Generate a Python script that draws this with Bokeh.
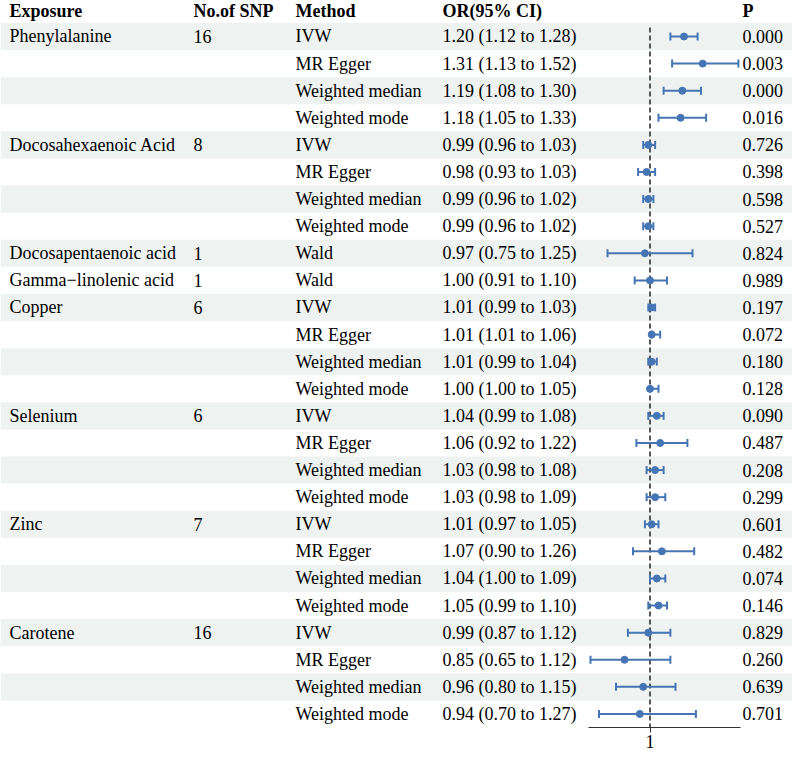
import numpy as np
from bokeh.plotting import figure
from bokeh.models import Range1d, LinearAxis, FixedTicker, ColumnDataSource
from bokeh.core.properties import value
from bokeh.embed import file_html
from bokeh.resources import INLINE

headers = ["Exposure", "No.of SNP", "Method", "OR(95% CI)", "P"]
exposure = ["Phenylalanine", "", "", "",
            "Docosahexaenoic Acid", "", "", "",
            "Docosapentaenoic acid",
            "Gamma\u2212linolenic acid",
            "Copper", "", "", "",
            "Selenium", "", "", "",
            "Zinc", "", "", "",
            "Carotene", "", "", ""]
n_snp = ["16", "", "", "", "8", "", "", "", "1", "1", "6", "", "", "",
         "6", "", "", "", "7", "", "", "", "16", "", "", ""]
method4 = ["IVW", "MR Egger", "Weighted median", "Weighted mode"]
method = method4 * 2 + ["Wald", "Wald"] + method4 * 4
or_val = [1.20, 1.31, 1.19, 1.18,
          0.99, 0.98, 0.99, 0.99,
          0.97, 1.00,
          1.01, 1.01, 1.01, 1.00,
          1.04, 1.06, 1.03, 1.03,
          1.01, 1.07, 1.04, 1.05,
          0.99, 0.85, 0.96, 0.94]
or_lo = [1.12, 1.13, 1.08, 1.05,
         0.96, 0.93, 0.96, 0.96,
         0.75, 0.91,
         0.99, 1.01, 0.99, 1.00,
         0.99, 0.92, 0.98, 0.98,
         0.97, 0.90, 1.00, 0.99,
         0.87, 0.65, 0.80, 0.70]
or_hi = [1.28, 1.52, 1.30, 1.33,
         1.03, 1.03, 1.02, 1.02,
         1.25, 1.10,
         1.03, 1.06, 1.04, 1.05,
         1.08, 1.22, 1.08, 1.09,
         1.05, 1.26, 1.09, 1.10,
         1.12, 1.12, 1.15, 1.27]
p_val = ["0.000", "0.003", "0.000", "0.016",
         "0.726", "0.398", "0.598", "0.527",
         "0.824", "0.989",
         "0.197", "0.072", "0.180", "0.128",
         "0.090", "0.487", "0.208", "0.299",
         "0.601", "0.482", "0.074", "0.146",
         "0.829", "0.260", "0.639", "0.701"]
axis_ticks = [1]

# ---- layout / style constants ----
BLUE = "#4575b4"
SHADE = "#eef2f1"
FONT = "Liberation Serif"
FSIZE = "18px"
W, H = 792, 750
col_x = [9, 193, 295, 442, 742]        # column left edges (layout units = px)
Y_TOP, Y_BOT = -0.3284, 26.5            # row-unit extent of the frame
HEADER_Y = Y_TOP + 0.03                 # header top edge (row units)
n = len(method)
rows = list(range(1, n + 1))
or_text = [f"{o:.2f} ({l:.2f} to {h:.2f})" for o, l, h in zip(or_val, or_lo, or_hi)]

p = figure(width=W, height=H, output_backend="svg", toolbar_location=None,
           x_range=Range1d(0, W), y_range=Range1d(Y_BOT, Y_TOP),
           x_axis_type=None, y_axis_type=None, min_border=0)
p.extra_x_ranges = {"or": Range1d(1 - 649.5 / 170, 1 + (W - 649.5) / 170)}
p.outline_line_color = None
p.background_fill_color = "white"
p.border_fill_color = "white"
p.xgrid.visible = False
p.ygrid.visible = False

# alternating row shading
shade_rows = rows[0::2]
p.hbar(y=shade_rows, left=0, right=W, height=1, fill_color=SHADE, line_color=None)

# header
p.text(x=col_x, y=[HEADER_Y] * len(headers), text=headers, text_font=value(FONT),
       text_font_size=FSIZE, text_font_style="bold", text_baseline="top",
       text_align="left", text_color="black")

# table columns
for cx, col in zip(col_x, [exposure, n_snp, method, or_text, p_val]):
    src = ColumnDataSource(dict(x=[cx] * n, y=rows, t=col))
    p.text(x="x", y="y", text="t", source=src, text_font=value(FONT),
           text_font_size=FSIZE, text_baseline="middle", text_align="left",
           text_color="black")

# reference line at OR = 1
p.segment(x0=[1], y0=[0.67], x1=[1], y1=[Y_BOT], x_range_name="or",
          line_color="#222222", line_width=1.5, line_dash="5 3")

# CIs
p.segment(x0=or_lo, y0=rows, x1=or_hi, y1=rows, x_range_name="or",
          line_color=BLUE, line_width=2)
p.scatter(x=or_lo + or_hi, y=rows + rows, marker="dash", angle=np.pi / 2, size=8,
          line_color=BLUE, line_width=2, x_range_name="or")
p.scatter(x=or_val, y=rows, marker="circle", size=7, fill_color=BLUE,
          line_color=BLUE, x_range_name="or")

ax = LinearAxis(x_range_name="or", ticker=FixedTicker(ticks=axis_ticks), bounds=(0.64, 1.53))
ax.major_tick_in = 0
ax.major_tick_out = 5
ax.minor_tick_in = 0
ax.minor_tick_out = 0
ax.axis_line_color = "#333333"
ax.major_tick_line_color = "#333333"
ax.major_label_text_font = FONT
ax.major_label_text_font_size = FSIZE
ax.major_label_text_color = "black"
ax.major_label_standoff = 2
p.add_layout(ax, "below")

open("out.html", "w").write(file_html(p, INLINE))
